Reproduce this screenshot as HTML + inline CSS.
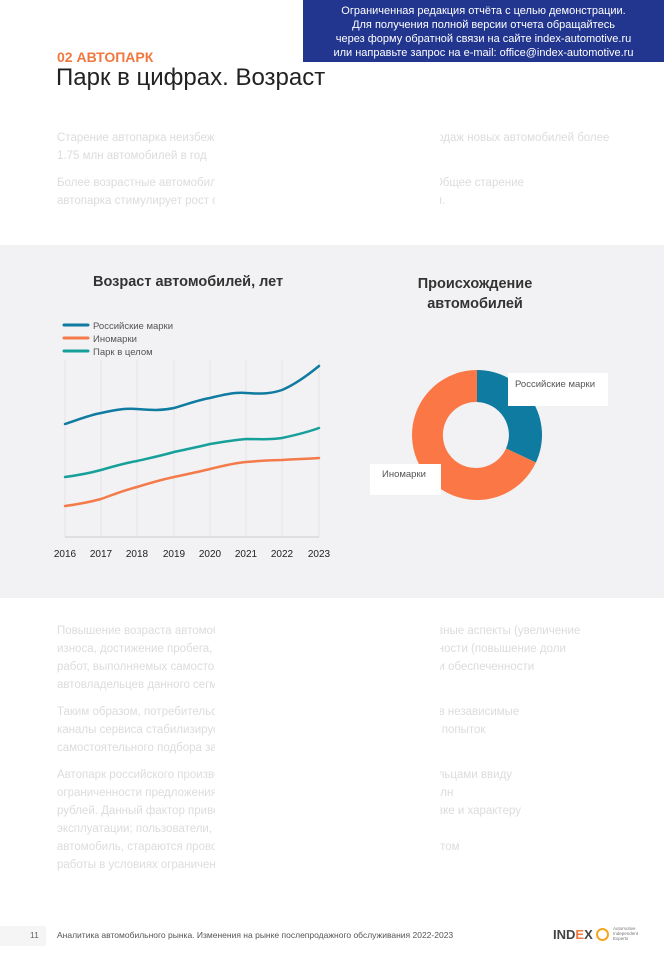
<!DOCTYPE html>
<html><head><meta charset="utf-8"><style>
body{margin:0;width:664px;height:960px;position:relative;background:#fff;font-family:"Liberation Sans","DejaVu Sans",sans-serif;overflow:hidden}
.a{position:absolute;white-space:nowrap}
.p{color:#dcdcdc;font-size:11.5px;left:57px}
.hide{position:absolute;background:#fff}
</style></head><body>
<div class="a" style="left:303px;top:0;width:361px;height:62px;background:#22368f;color:#fff;font-size:11px;line-height:14px;text-align:center;padding-top:4px;box-sizing:border-box">Ограниченная редакция отчёта с целью демонстрации.<br>Для получения полной версии отчета обращайтесь<br>через форму обратной связи на сайте index-automotive.ru<br>или направьте запрос на e-mail: office@index-automotive.ru</div>
<div class="a" style="left:57px;top:49px;color:#f07840;font-weight:bold;font-size:14px">02 АВТОПАРК</div>
<div class="a" style="left:56px;top:64px;color:#222;font-size:24px">Парк в цифрах. Возраст</div>

<div class="a p" style="top:132px">Старение автопарка неизбежно происходит в условиях сокращения продаж новых автомобилей более</div>
<div class="a p" style="top:150px">1.75 млн автомобилей в год</div>
<div class="a p" style="top:177px">Более возрастные автомобили требуют больше внимания и ремонта. Общее старение</div>
<div class="a p" style="top:195px">автопарка стимулирует рост спроса на обслуживание и запасные части.</div>
<div class="hide" style="left:215px;top:128px;width:225px;height:90px"></div>

<div class="a" style="left:0;top:245px;width:664px;height:353px;background:#f2f2f4"></div>
<div class="a" style="left:93px;top:274px;font-size:14.5px;font-weight:bold;color:#333">Возраст автомобилей, лет</div>
<div class="a" style="left:380px;top:274px;width:190px;text-align:center;font-size:14.5px;font-weight:bold;color:#333;line-height:20px;white-space:normal">Происхождение автомобилей</div>

<svg class="a" style="left:0;top:0" width="664" height="600">
<g stroke="#e4e4e6" stroke-width="1">
<line x1="65" y1="360" x2="65" y2="537"/><line x1="101" y1="360" x2="101" y2="537"/><line x1="137" y1="360" x2="137" y2="537"/><line x1="174" y1="360" x2="174" y2="537"/><line x1="210" y1="360" x2="210" y2="537"/><line x1="246" y1="360" x2="246" y2="537"/><line x1="282" y1="360" x2="282" y2="537"/><line x1="319" y1="360" x2="319" y2="537"/>
</g>
<line x1="65" y1="537" x2="319" y2="537" stroke="#ccc"/>
<g fill="none" stroke-width="2.5" stroke-linecap="round">
<path d="M65,424 C80,419 90,415 101,413 C115,410 125,408 137,409 C150,410 160,411 174,408 C188,404 198,400 210,398 C222,395 235,392 246,393 C260,394 270,394 282,390 C296,384 308,375 319,366" stroke="#0f7ba1"/>
<path d="M65,477 C80,475 90,473 101,470 C115,466 125,463 137,461 C150,458 160,456 174,452 C188,449 198,447 210,444 C222,442 235,440 246,439 C260,439 270,440 282,438 C296,435 308,432 319,428" stroke="#17a09a"/>
<path d="M65,506 C80,504 90,502 101,499 C115,494 125,490 137,487 C150,483 160,480 174,477 C188,474 198,472 210,469 C222,466 235,463 246,462 C260,461 270,460 282,460 C296,459 308,459 319,458" stroke="#f47a4a"/>
</g>
<g stroke-width="3" stroke-linecap="round">
<line x1="64" y1="325" x2="88" y2="325" stroke="#0f7ba1"/>
<line x1="64" y1="338" x2="88" y2="338" stroke="#f47a4a"/>
<line x1="64" y1="351" x2="88" y2="351" stroke="#17a09a"/>
</g>
<g font-size="9.5" fill="#555" font-family="Liberation Sans, sans-serif">
<text x="93" y="329">Российские марки</text><text x="93" y="342">Иномарки</text><text x="93" y="355">Парк в целом</text>
</g>
<g font-size="10" fill="#222" text-anchor="middle" font-family="Liberation Sans, sans-serif">
<text x="65" y="557">2016</text><text x="101" y="557">2017</text><text x="137" y="557">2018</text><text x="174" y="557">2019</text><text x="210" y="557">2020</text><text x="246" y="557">2021</text><text x="282" y="557">2022</text><text x="319" y="557">2023</text>
</g>
<!-- donut: center 477,435 -->
<path d="M477,370 A65,65 0 0 1 535.9,462.5 L506,448.5 A33,33 0 0 0 477,402 Z" fill="#0f7ba1"/>
<path d="M535.9,462.5 A65,65 0 1 1 477,370 L477,402 A33,33 0 1 0 506,448.5 Z" fill="#fb7746"/>
<rect x="508" y="373" width="100" height="33" fill="#fff"/>
<text x="515" y="387" font-size="9.5" fill="#555" font-family="Liberation Sans, sans-serif">Российские марки</text>
<rect x="370" y="464" width="71" height="31" fill="#fff"/>
<text x="382" y="477" font-size="9.5" fill="#555" font-family="Liberation Sans, sans-serif">Иномарки</text>
</svg>

<div class="a p" style="top:625px">Повышение возраста автомобилей имеет как негативные, так и позитивные аспекты (увеличение</div>
<div class="a p" style="top:643px">износа, достижение пробега, необходимого для ремонта), и рост активности (повышение доли</div>
<div class="a p" style="top:661px">работ, выполняемых самостоятельно, снижение уровня обеспеченности обеспеченности</div>
<div class="a p" style="top:679px">автовладельцев данного сегмента</div>
<div class="a p" style="top:706px">Таким образом, потребительское поведение владельцев автомобилей в независимые</div>
<div class="a p" style="top:724px">каналы сервиса стабилизируется, а часть спроса смещается в сторону попыток</div>
<div class="a p" style="top:742px">самостоятельного подбора запчастей и обслуживания.</div>
<div class="a p" style="top:769px">Автопарк российского производства останется под управлением владельцами ввиду</div>
<div class="a p" style="top:787px">ограниченности предложения новых автомобилей стоимостью до 1,5 млн</div>
<div class="a p" style="top:805px">рублей. Данный фактор приведёт к изменениям в технической подготовке и характеру</div>
<div class="a p" style="top:823px">эксплуатации; пользователи, которые не могут поменять текущий</div>
<div class="a p" style="top:841px">автомобиль, стараются проводить работы, предусмотренные регламентом</div>
<div class="a p" style="top:859px">работы в условиях ограничений.</div>
<div class="hide" style="left:215px;top:620px;width:225px;height:260px"></div>
<div class="hide" style="left:440px;top:675px;width:160px;height:20px"></div>
<div class="hide" style="left:440px;top:859px;width:160px;height:20px"></div>

<div class="a" style="left:0;top:926px;width:46px;height:20px;background:#f5f5f5"></div>
<div class="a" style="left:30px;top:930px;font-size:8.5px;color:#666">11</div>
<div class="a" style="left:57px;top:930px;font-size:8.5px;color:#555">Аналитика автомобильного рынка. Изменения на рынке послепродажного обслуживания 2022-2023</div>
<div class="a" style="left:553px;top:927px;font-size:13px;font-weight:bold;color:#444">IND<span style="color:#f07840">E</span>X</div>
<div class="a" style="left:596px;top:928px;width:9px;height:9px;border:2px solid #f5a623;border-radius:50%"></div>
<div class="a" style="left:613px;top:926px;font-size:4.5px;line-height:5px;color:#777">Automotive<br>Independent<br>Experts</div>
</body></html>
